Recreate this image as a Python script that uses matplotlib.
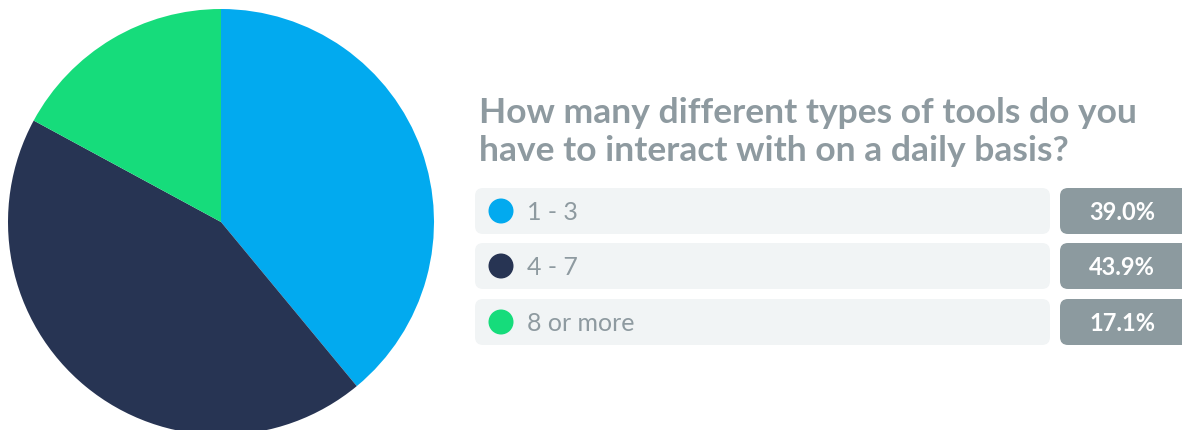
import matplotlib
matplotlib.use("Agg")
import matplotlib.pyplot as plt
from matplotlib.patches import FancyBboxPatch, Circle

# survey answers
question = ["How many different types of tools do you",
            "have to interact with on a daily basis?"]
categories = ["1 - 3", "4 - 7", "8 or more"]
shares = [39.0, 43.9, 17.1]
colors = ["#02aaef", "#273453", "#16dc7b"]

W, H = 1182, 431
grey = "#8e9aa0"
plt.rcParams["font.family"] = ["Lato", "DejaVu Sans"]

fig = plt.figure(figsize=(W / 100, H / 100), dpi=100)

# panel on the right, drawn in pixel units
ax = fig.add_axes([0, 0, 1, 1])
ax.set_xlim(0, W)
ax.set_ylim(H, 0)
ax.axis("off")

for i, line in enumerate(question):
    ax.text(479, 123 + 38 * i, line, fontsize=25.5, fontweight="bold",
            color=grey, ha="left", va="baseline")

row_top = [189, 244, 300]
row_h = 46
for top, cat, val, col in zip(row_top, categories, shares, colors):
    cy = top + row_h / 2
    ax.add_patch(FancyBboxPatch((475, top), 575, row_h,
                                boxstyle="round,pad=0,rounding_size=8",
                                fc="#f1f4f5", ec="none"))
    ax.add_patch(FancyBboxPatch((1060, top), 140, row_h,
                                boxstyle="round,pad=0,rounding_size=8",
                                fc="#8c9a9f", ec="none"))
    ax.add_patch(Circle((501, cy), 12.5, fc=col, ec="none"))
    ax.text(527, cy + 1, cat, fontsize=18, color=grey, ha="left", va="center")
    ax.text(1122, cy + 1, f"{val:.1f}%", fontsize=17, fontweight="bold",
            color="white", ha="center", va="center")

# pie on the left
r = 213
cx, cy = 221, 223
pax = fig.add_axes([(cx - r) / W, (H - cy - r) / H, 2 * r / W, 2 * r / H])
pax.pie(shares, colors=colors, startangle=90, counterclock=False,
        wedgeprops=dict(linewidth=0))
pax.set_xlim(-1, 1)
pax.set_ylim(-1, 1)
pax.axis("off")

fig.savefig("out.png", dpi=100)
